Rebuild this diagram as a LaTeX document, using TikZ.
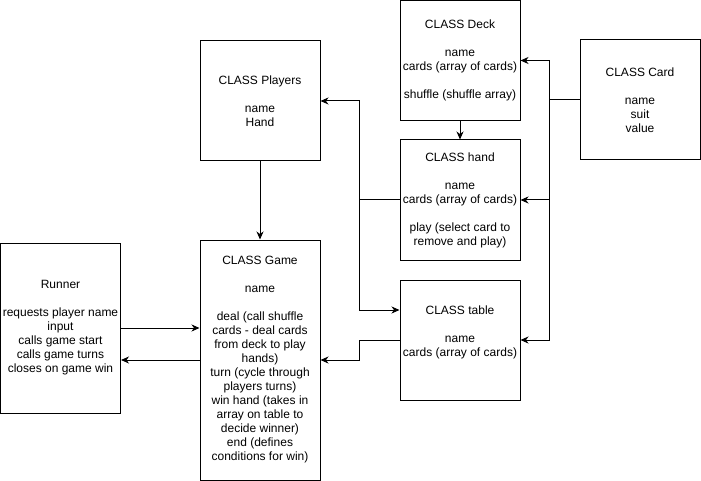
\documentclass[tikz,border=0pt]{standalone}
\usepackage{fontspec}
\setmainfont{Liberation Sans}
\usetikzlibrary{arrows.meta}
\begin{document}
\begin{tikzpicture}[
	x=1pt, y=-1pt,
	line width=1pt,
	box/.style = {draw, minimum width=120pt, minimum height=120pt, inner sep=0pt,
		align=center, font=\fontsize{12}{14}\selectfont},
	arr/.style = {-{Stealth[length=8pt, width=7pt, inset=2.5pt]}},
	]
	\useasboundingbox (0,0) rectangle (701,481);
	\node[box] (players) at (260,101) {CLASS Players\\[14pt] name\\ Hand};
	\node[box] (deck) at (460,60.5) {CLASS Deck\\[14pt] name\\ cards (array of cards)\\[14pt] shuffle (shuffle array)};
	\node[box] (card) at (640,100) {CLASS Card\\[14pt] name\\ suit\\ value};
	\node[box] (hand) at (460,200) {CLASS hand\\[14pt] name\\ cards (array of cards)\\[14pt] play (select card to\\ remove and play)};
	\node[box] (table) at (460,340) {CLASS table\\[14pt] name\\ cards (array of cards)\\ \strut};
	\node[box, minimum height=240pt] (game) at (260,360) {CLASS Game\\[14pt] name\\[14pt] deal (call shuffle\\ cards - deal cards\\ from deck to play\\ hands)\\ turn (cycle through\\ players turns)\\ win hand (takes in\\ array on table to\\ decide winner)\\ end (defines\\ conditions for win)};
	\node[box, minimum height=170pt] (runner) at (60.5,328) {Runner\\[14pt] requests player name\\ input\\ calls game start\\ calls game turns\\ closes on game win};

	\draw[arr] (players) -- (game);
	\draw[arr] (deck) -- (hand);
	% card feeds deck, hand and table
	\draw (card.west) -- ++(-30,0) coordinate (cardjoin);
	\draw[arr] (cardjoin) |- (deck.east);
	\draw[arr] (cardjoin) |- (hand.east);
	\draw[arr] (cardjoin) |- (table.east);
	% hand goes to players and table
	\draw (hand.west) -- ++(-40,0) coordinate (handjoin);
	\draw[arr] (handjoin) |- (players.east);
	\draw[arr] (handjoin) |- ([yshift=30pt]table.west);
	\draw[arr] (table.west) -- ++(-40,0) |- (game.east);
	% runner and game
	\draw[arr] (runner.east) -- (runner.east -| game.west);
	\draw[arr] (game.west) -- (game.west -| runner.east);
\end{tikzpicture}
\end{document}
